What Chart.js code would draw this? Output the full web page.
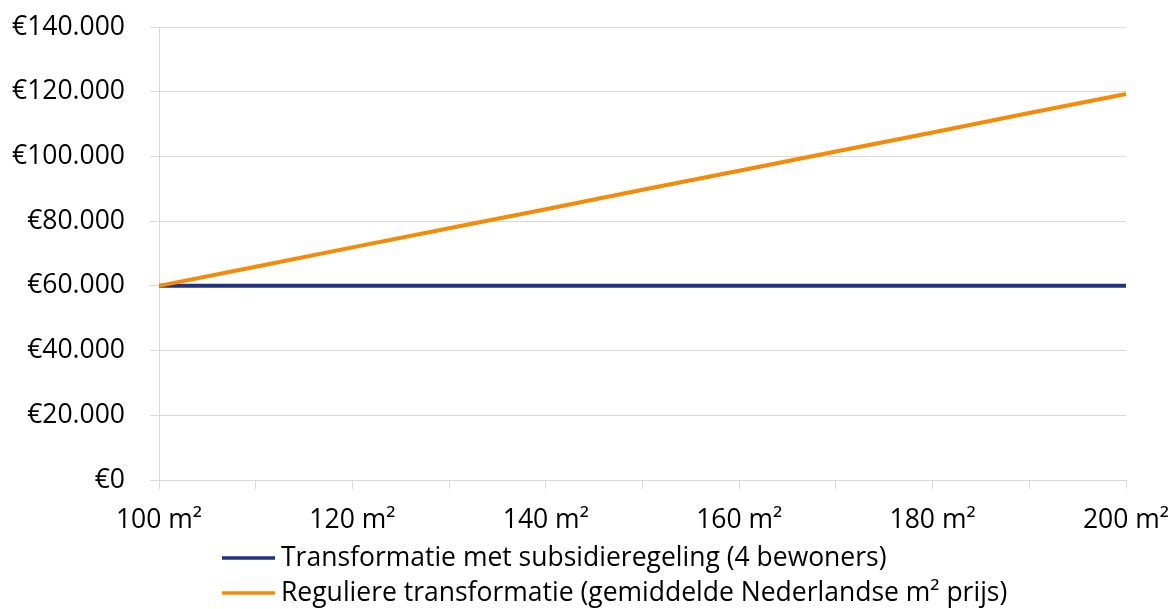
<!DOCTYPE html>
<html>
<head>
<meta charset="utf-8">
<script src="https://cdn.jsdelivr.net/npm/chart.js@4/dist/chart.umd.min.js"></script>
<style>
  html, body { margin: 0; padding: 0; background: #fff; }
  #wrap { width: 1174px; height: 609px; position: relative; }
</style>
</head>
<body>
<div id="wrap"><canvas id="costChart" width="1174" height="609"></canvas></div>
<script>
// Chart data
const sizeLabels = ['100 m²', '110 m²', '120 m²', '130 m²', '140 m²', '150 m²', '160 m²', '170 m²', '180 m²', '190 m²', '200 m²'];
const subsidyCosts = [60000, 60000, 60000, 60000, 60000, 60000, 60000, 60000, 60000, 60000, 60000];
const regularCosts = [60000, 65900, 71900, 77800, 83700, 89700, 95600, 101500, 107400, 113400, 119300];
const seriesNames = ['Transformatie met subsidieregeling (4 bewoners)', 'Reguliere transformatie (gemiddelde Nederlandse m² prijs)'];
const seriesColors = ['#1f3381', '#f48a05'];

const baseFont = { family: '"Open Sans", sans-serif', size: 26.5 };
const gridColor = '#d9d9d9';

function euroLabel(v) {
    return '€' + Number(v).toLocaleString('nl-NL');
}

// legend stacked under the plot, left aligned like the original
const stackedLegend = {
    id: 'stackedLegend',
    afterDraw(chart) {
        const ctx = chart.ctx;
        const rows = [558, 593];
        ctx.save();
        ctx.font = '26.5px "Open Sans", sans-serif';
        ctx.textBaseline = 'middle';
        ctx.textAlign = 'left';
        chart.data.datasets.forEach((ds, i) => {
            const y = rows[i];
            ctx.strokeStyle = ds.borderColor;
            ctx.lineWidth = 3.5;
            ctx.beginPath();
            ctx.moveTo(222, y);
            ctx.lineTo(275, y);
            ctx.stroke();
            ctx.fillStyle = '#000';
            ctx.fillText(ds.label, 281, y);
        });
        ctx.restore();
    }
};

Chart.defaults.font.family = baseFont.family;
Chart.defaults.color = '#000';

new Chart(document.getElementById('costChart'), {
    type: 'line',
    data: {
        labels: sizeLabels,
        datasets: [
            { label: seriesNames[0], data: subsidyCosts, borderColor: seriesColors[0], backgroundColor: seriesColors[0], borderWidth: 4, pointRadius: 0, tension: 0, order: 2 },
            { label: seriesNames[1], data: regularCosts, borderColor: seriesColors[1], backgroundColor: seriesColors[1], borderWidth: 4, pointRadius: 0, tension: 0, order: 1 }
        ]
    },
    options: {
        responsive: false,
        animation: false,
        layout: { padding: { top: 27, right: 48, left: 0, bottom: 69 } },
        plugins: { legend: { display: false }, tooltip: { enabled: false } },
        scales: {
            x: {
                offset: false,
                grid: { display: true, drawOnChartArea: false, drawTicks: true, tickLength: 9, color: gridColor },
                border: { display: true, color: gridColor },
                ticks: {
                    autoSkip: false,
                    maxRotation: 0,
                    padding: 16,
                    font: baseFont,
                    callback: function(v, i) { return i % 2 === 0 ? this.getLabelForValue(v) : ''; }
                },
                afterFit: s => { s.height = 60; s.paddingLeft = 0; s.paddingRight = 0; }
            },
            y: {
                min: 0,
                max: 140000,
                grid: { color: gridColor, tickLength: 9 },
                border: { display: true, color: gridColor },
                ticks: { stepSize: 20000, padding: 25, font: baseFont, callback: v => euroLabel(v) },
                afterFit: s => { s.width = 159; s.paddingTop = 0; s.paddingBottom = 0; }
            }
        }
    },
    plugins: [stackedLegend]
});
</script>
</body>
</html>
